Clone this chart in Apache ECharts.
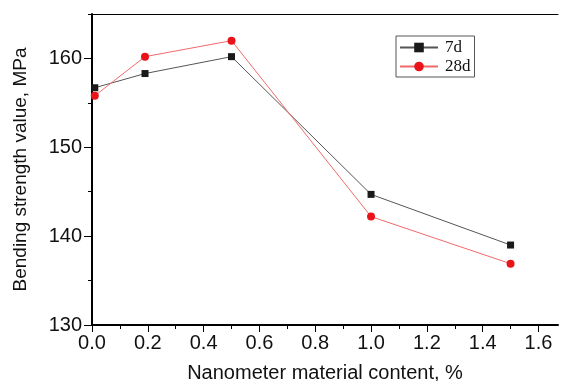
<!DOCTYPE html>
<html>
<head>
<meta charset="utf-8">
<script src="https://cdn.jsdelivr.net/npm/echarts@6/dist/echarts.min.js"></script>
<style>
  html, body { margin: 0; padding: 0; background: #fff; }
  #chart { width: 561px; height: 381px; }
</style>
</head>
<body>
<div id="chart"></div>
<script>
// 纳米材料掺量 (%)
let contents = [0.01, 0.19, 0.5, 1.0, 1.5];
// 抗折强度 MPa
let strength7d = [156.7, 158.3, 160.2, 144.7, 139.0];
let strength28d = [155.8, 160.2, 162.0, 142.2, 136.9];
let xTicks = [0, 0.2, 0.4, 0.6, 0.8, 1.0, 1.2, 1.4, 1.6];
let xMinor = [0.1, 0.3, 0.5, 0.7, 0.9, 1.1, 1.3, 1.5];
let yTicks = [130, 140, 150, 160];
let yMinor = [135, 145, 155, 165];

let chart = echarts.init(document.getElementById('chart'));

const labelFont = 'Liberation Sans, Arial, sans-serif';

function pairs(ys) {
    return contents.map((x, i) => [x, ys[i]]);
}

const option = {
    animation: false,
    grid: { left: 92, right: 3, top: 14, bottom: 56, outerBoundsMode: 'none', containLabel: false },
    legend: {
        data: ['7d', '28d'],
        orient: 'vertical',
        left: 396,
        top: 36,
        padding: [3, 4, 2, 3],
        itemGap: 2,
        itemWidth: 38,
        itemHeight: 12,
        borderColor: '#555',
        borderWidth: 1,
        textStyle: { fontFamily: 'Liberation Serif, serif', fontSize: 17, color: '#111', padding: [0, 0, 0, 2] }
    },
    xAxis: [
        {
            type: 'value',
            min: 0,
            max: 1.67,
            interval: 0.2,
            splitLine: { show: false },
            axisLine: { onZero: false, lineStyle: { color: '#000', width: 2 } },
            axisTick: { show: true, length: 7, customValues: xTicks, lineStyle: { color: '#000', width: 1 } },
            minorTick: { show: false },
            axisLabel: {
                customValues: xTicks,
                margin: 8,
                color: '#111',
                fontFamily: labelFont,
                fontSize: 20,
                formatter: v => v.toFixed(1)
            },
            name: 'Nanometer material content, %',
            nameLocation: 'middle',
            nameGap: 38,
            nameTextStyle: { fontFamily: labelFont, fontSize: 20, color: '#111' }
        },
        {
            type: 'value',
            position: 'top',
            min: 0,
            max: 1.67,
            axisLine: { onZero: false, lineStyle: { color: '#000', width: 1 } },
            axisTick: { show: false },
            axisLabel: { show: false },
            splitLine: { show: false }
        },
        {
            // 次刻度
            type: 'value',
            position: 'bottom',
            min: 0,
            max: 1.67,
            axisLine: { show: false },
            axisTick: { show: true, length: 4, customValues: xMinor, lineStyle: { color: '#000', width: 1 } },
            axisLabel: { show: false },
            splitLine: { show: false }
        }
    ],
    yAxis: [
        {
            type: 'value',
            min: 130,
            max: 165,
            interval: 10,
            splitLine: { show: false },
            axisLine: { show: true, lineStyle: { color: '#000', width: 2 } },
            axisTick: { show: true, length: 8, customValues: yTicks, lineStyle: { color: '#000', width: 1 } },
            axisLabel: {
                customValues: yTicks,
                margin: 10,
                color: '#111',
                fontFamily: labelFont,
                fontSize: 20
            },
            name: 'Bending strength value, MPa',
            nameLocation: 'middle',
            nameGap: 62,
            nameTextStyle: { fontFamily: labelFont, fontSize: 19, color: '#111' }
        },
        {
            type: 'value',
            position: 'left',
            min: 130,
            max: 165,
            axisLine: { show: false },
            axisTick: { show: true, length: 4, customValues: yMinor, lineStyle: { color: '#000', width: 1 } },
            axisLabel: { show: false },
            splitLine: { show: false }
        }
    ],
    series: [
        {
            name: '7d',
            type: 'line',
            data: pairs(strength7d),
            symbol: 'rect',
            symbolSize: 7,
            itemStyle: { color: '#1a1a1a' },
            lineStyle: { color: '#555', width: 1 }
        },
        {
            name: '28d',
            type: 'line',
            data: pairs(strength28d),
            symbol: 'circle',
            symbolSize: 8,
            itemStyle: { color: '#e8141a' },
            lineStyle: { color: '#f06a6a', width: 1 }
        }
    ]
};
chart.setOption(option);
</script>
</body>
</html>
